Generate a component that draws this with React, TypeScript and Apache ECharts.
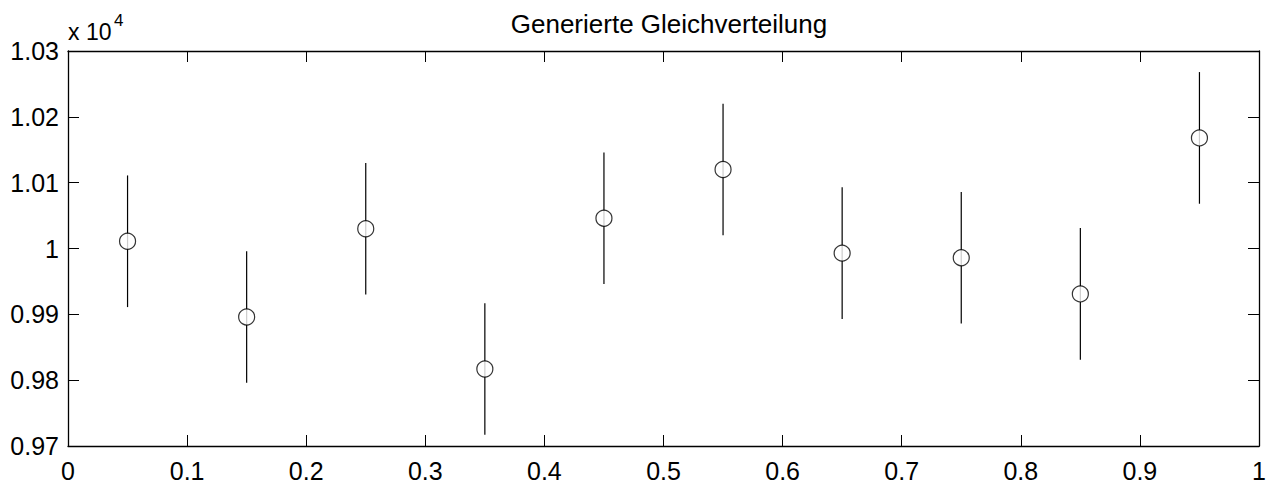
import React, { useEffect, useRef } from "react";
import * as echarts from "echarts";

const binCenters = [0.05, 0.15, 0.25, 0.35, 0.45, 0.55, 0.65, 0.75, 0.85, 0.95];
const counts = [10011, 9896, 10030, 9817, 10046, 10120, 9993, 9986, 9931, 10168];
const errors = [100, 100, 100, 100, 100, 100, 100, 100, 100, 100];
const titleText = "Generierte Gleichverteilung";
const scaleLabel = "x 10";
const scaleExp = "4";

const FONT = '"Liberation Sans", Arial, Helvetica, sans-serif';

export default function App() {
  const ref = useRef<HTMLDivElement>(null);
  useEffect(() => {
    const chart = echarts.init(ref.current!, null, { renderer: "svg" });
    const errData = binCenters.map((x, i) => [x, counts[i] - errors[i], counts[i] + errors[i]]);
    const ptData = binCenters.map((x, i) => [x, counts[i]]);
    const axisCommon = {
      axisLine: { show: true, onZero: false, lineStyle: { color: "#000", width: 1.3 } },
      axisTick: { show: true, inside: true, length: 11, lineStyle: { color: "#000", width: 1 } },
      splitLine: { show: false },
    };
    const yFmt = (v: number) => String(parseFloat((v / 10000).toFixed(4)));
    chart.setOption({
      animation: false,
      backgroundColor: "#fff",
      title: {
        text: titleText,
        left: 664,
        textAlign: "center",
        top: 6,
        textStyle: { fontFamily: FONT, fontSize: 26, fontWeight: "normal", color: "#000" },
      },
      graphic: [
        {
          type: "text",
          x: 68,
          y: 43,
          style: {
            text: scaleLabel,
            fontFamily: FONT,
            fontSize: 23,
            fill: "#000",
            verticalAlign: "bottom",
          },
        },
        {
          type: "text",
          x: 114,
          y: 12,
          style: {
            text: scaleExp,
            fontFamily: FONT,
            fontSize: 17,
            fill: "#000",
            verticalAlign: "top",
          },
        },
      ],
      grid: { left: 68, right: 14, top: 51, bottom: 42, containLabel: false },
      xAxis: [
        {
          type: "value",
          min: 0,
          max: 1,
          interval: 0.1,
          position: "bottom",
          ...axisCommon,
          axisLabel: { show: true, margin: 12, fontFamily: FONT, fontSize: 25, color: "#000" },
        },
        {
          type: "value",
          min: 0,
          max: 1,
          interval: 0.1,
          position: "top",
          ...axisCommon,
          axisLabel: { show: false },
        },
      ],
      yAxis: [
        {
          type: "value",
          min: 9700,
          max: 10300,
          interval: 100,
          position: "left",
          ...axisCommon,
          axisLabel: {
            show: true,
            margin: 9,
            fontFamily: FONT,
            fontSize: 25,
            color: "#000",
            formatter: yFmt,
            padding: [4, 0, 0, 0],
          },
        },
        {
          type: "value",
          min: 9700,
          max: 10300,
          interval: 100,
          position: "right",
          ...axisCommon,
          axisLabel: { show: false },
        },
      ],
      series: [
        {
          type: "custom",
          xAxisIndex: 0,
          yAxisIndex: 0,
          data: errData,
          renderItem: (params: any, api: any) => {
            const x = api.value(0);
            const p1 = api.coord([x, api.value(1)]);
            const p2 = api.coord([x, api.value(2)]);
            return {
              type: "line",
              shape: { x1: p1[0], y1: p1[1], x2: p2[0], y2: p2[1] },
              style: { stroke: "#000", lineWidth: 1.2 },
            };
          },
          z: 2,
        },
        {
          type: "scatter",
          xAxisIndex: 0,
          yAxisIndex: 0,
          data: ptData,
          symbol: "circle",
          symbolSize: 16,
          itemStyle: { color: "#fff", borderColor: "#000", borderWidth: 1.2 },
          z: 3,
        },
      ],
    });
    return () => chart.dispose();
  }, []);
  return (
    <div
      ref={ref}
      style={{ position: "fixed", left: 0, top: 0, width: 1273, height: 488, background: "#fff" }}
    />
  );
}
